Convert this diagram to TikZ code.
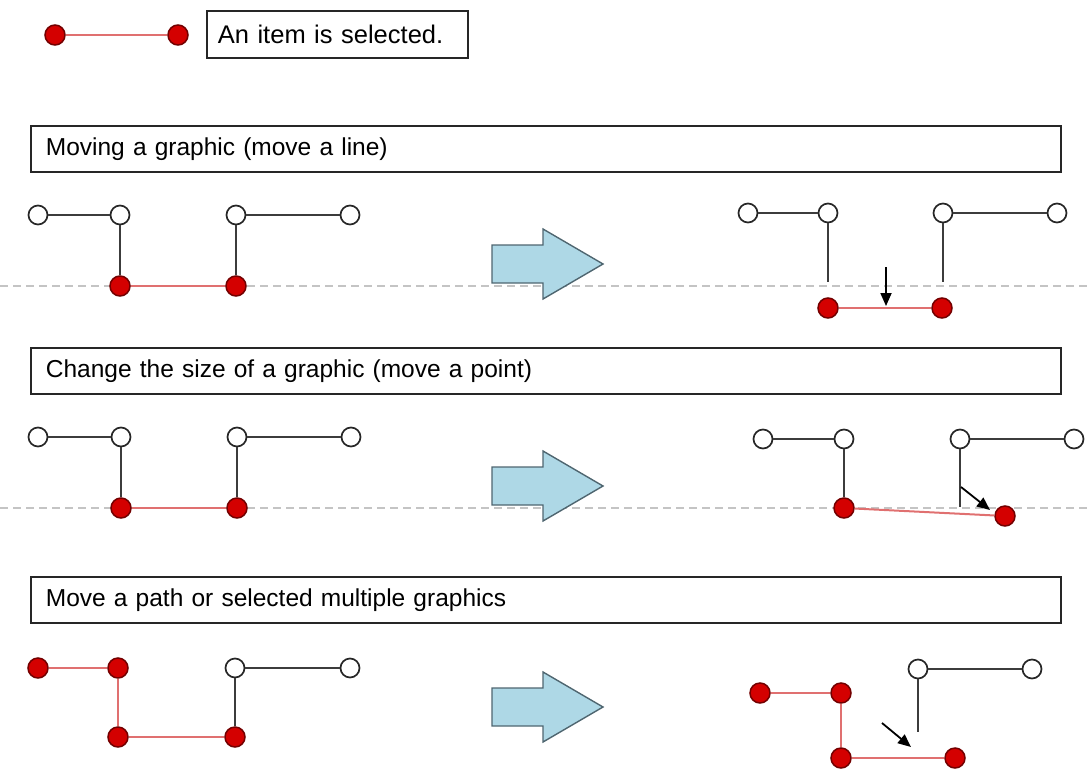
\documentclass[tikz,border=0pt]{standalone}
\usepackage{fontspec}
\setmainfont{Liberation Sans}
\usetikzlibrary{arrows.meta}
\definecolor{selred}{HTML}{D40000}
\definecolor{selline}{HTML}{E07070}
\definecolor{plainline}{HTML}{3C3C3C}
\definecolor{arrowblue}{HTML}{AED8E6}
\definecolor{arrowedge}{HTML}{4F6670}
\definecolor{guide}{HTML}{C4C4C4}

\begin{document}
\begin{tikzpicture}[x=1pt, y=-1pt,
  whitenode/.style={circle, draw=black!85, fill=white, line width=1.7pt, minimum size=19pt, inner sep=0pt},
  rednode/.style={circle, draw=red!45!black, fill=selred, line width=1.5pt, minimum size=20pt, inner sep=0pt},
  plain/.style={draw=plainline, line width=2pt},
  sel/.style={draw=selline, line width=2pt},
  guideline/.style={draw=guide, line width=1.2pt, dash pattern=on 8pt off 5pt},
  titlebox/.style={draw=black!85, line width=1.8pt, minimum height=46pt, text width=1000pt, inner xsep=15pt, align=left, font=\fontsize{24.5}{28}\selectfont},
  itembox/.style={draw=black!85, line width=1.8pt, minimum height=47pt, text width=239pt, inner xsep=11pt, align=left, font=\fontsize{25.5}{28}\selectfont},
  movearrow/.style={-{Triangle[width=11pt,length=13pt]}, line width=1.8pt, black},
  bigarrow/.style={fill=arrowblue, draw=arrowedge, line width=1.4pt, line join=miter}]

  \useasboundingbox (0,0) rectangle (1089,774);

  % legend
  \node[rednode] (l1) at (55,35) {};
  \node[rednode] (l2) at (178,35) {};
  \path[sel] (l1) edge (l2);
  \node[itembox, anchor=west] (legend) at (206,34.5) {An item is selected.};

  % section titles
  \node[titlebox, anchor=north west] (t1) at (30,125) {Moving a graphic (move a line)};
  \node[titlebox, anchor=north west] (t2) at (30,347) {Change the size of a graphic (move a point)};
  \node[titlebox, anchor=north west] (t3) at (30,576) {Move a path or selected multiple graphics};

  % guide lines
  \draw[guideline] (0,286) -- (1089,286);
  \draw[guideline] (0,508) -- (1089,508);

  % block arrows
  \foreach \y in {264,486,707}
    \draw[bigarrow] (492,\y-19) -- (543,\y-19) -- (543,\y-35) -- (603,\y)
      -- (543,\y+35) -- (543,\y+19) -- (492,\y+19) -- cycle;

  % move a line: before
  \node[whitenode] (a1) at (38,215) {};
  \node[whitenode] (b1) at (120,215) {};
  \node[whitenode] (c1) at (236,215) {};
  \node[whitenode] (d1) at (350,215) {};
  \node[rednode] (e1) at (120,286) {};
  \node[rednode] (f1) at (236,286) {};
  \path[plain] (a1) edge (b1)
               (b1) edge (e1)
               (c1) edge (f1)
                    edge (d1);
  \path[sel] (e1) edge (f1);

  % move a line: after
  \node[whitenode] (a2) at (748,213) {};
  \node[whitenode] (b2) at (828,213) {};
  \node[whitenode] (c2) at (943,213) {};
  \node[whitenode] (d2) at (1057,213) {};
  \coordinate (bend2) at (828,282);
  \coordinate (cend2) at (943,282);
  \node[rednode] (e2) at (828,308) {};
  \node[rednode] (f2) at (942,308) {};
  \path[plain] (a2) edge (b2)
               (b2) edge (bend2)
               (c2) edge (cend2)
                    edge (d2);
  \path[sel] (e2) edge (f2);
  \coordinate (m2s) at (886,267);
  \coordinate (m2e) at (886,306);
  \draw[movearrow] (m2s) -- (m2e);

  % move a point: before
  \node[whitenode] (a3) at (38,437) {};
  \node[whitenode] (b3) at (121,437) {};
  \node[whitenode] (c3) at (237,437) {};
  \node[whitenode] (d3) at (351,437) {};
  \node[rednode] (e3) at (121,508) {};
  \node[rednode] (f3) at (237,508) {};
  \path[plain] (a3) edge (b3)
               (b3) edge (e3)
               (c3) edge (f3)
                    edge (d3);
  \path[sel] (e3) edge (f3);

  % move a point: after
  \node[whitenode] (a4) at (763,439) {};
  \node[whitenode] (b4) at (844,439) {};
  \node[whitenode] (c4) at (960,439) {};
  \node[whitenode] (d4) at (1074,439) {};
  \coordinate (cend4) at (960,507);
  \node[rednode] (e4) at (844,508) {};
  \node[rednode] (f4) at (1005,516) {};
  \path[plain] (a4) edge (b4)
               (b4) edge (e4)
               (c4) edge (cend4)
                    edge (d4);
  \path[sel] (e4) edge (f4);
  \coordinate (m4s) at (961,487);
  \coordinate (m4e) at (990,510);
  \draw[movearrow] (m4s) -- (m4e);

  % move a path: before
  \node[rednode] (a5) at (38,668) {};
  \node[rednode] (b5) at (118,668) {};
  \node[rednode] (e5) at (118,737) {};
  \node[rednode] (f5) at (235,737) {};
  \node[whitenode] (c5) at (235,668) {};
  \node[whitenode] (d5) at (350,668) {};
  \path[sel] (a5) edge (b5)
             (b5) edge (e5)
             (e5) edge (f5);
  \path[plain] (c5) edge (f5)
                    edge (d5);

  % move a path: after
  \node[rednode] (a6) at (760,693) {};
  \node[rednode] (b6) at (841,693) {};
  \node[rednode] (e6) at (841,758) {};
  \node[rednode] (f6) at (955,758) {};
  \node[whitenode] (c6) at (918,669) {};
  \node[whitenode] (d6) at (1032,669) {};
  \coordinate (cend6) at (918,732);
  \path[sel] (a6) edge (b6)
             (b6) edge (e6)
             (e6) edge (f6);
  \path[plain] (c6) edge (cend6)
                    edge (d6);
  \coordinate (m6s) at (882,723);
  \coordinate (m6e) at (911,747);
  \draw[movearrow] (m6s) -- (m6e);
\end{tikzpicture}
\end{document}
